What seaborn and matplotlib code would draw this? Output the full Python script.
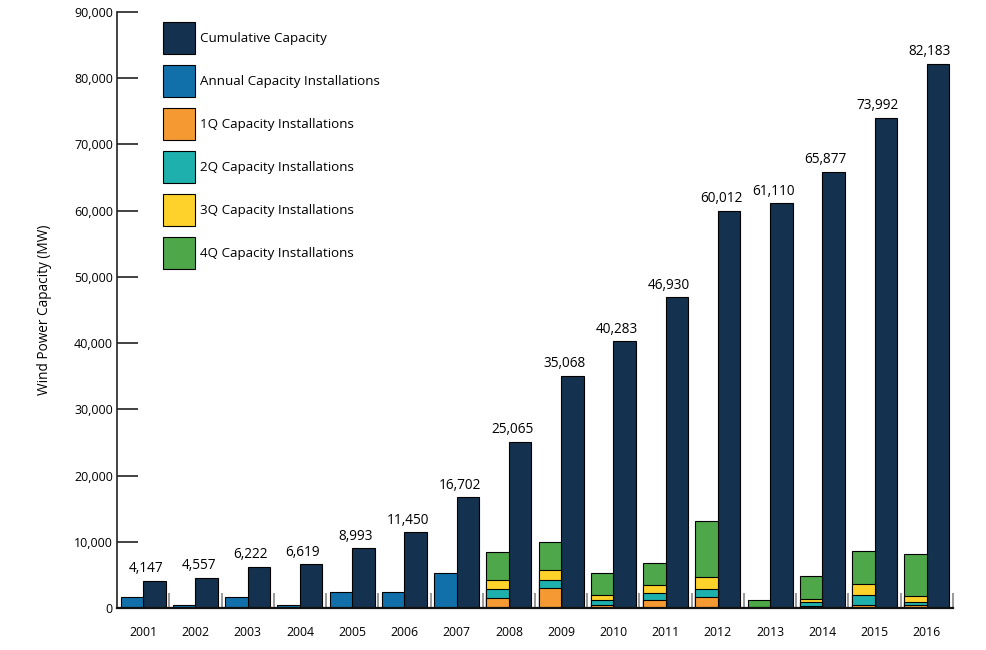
import numpy as np
import pandas as pd
import matplotlib
matplotlib.use("Agg")
import matplotlib.pyplot as plt
from matplotlib.patches import Patch
from matplotlib.ticker import FixedLocator, FuncFormatter
import seaborn as sns

# values (MW)
years = [str(y) for y in range(2001, 2017)]
cumulative = [4147, 4557, 6222, 6619, 8993, 11450, 16702, 25065,
              35068, 40283, 46930, 60012, 61110, 65877, 73992, 82183]
annual = [1697, 410, 1687, 389, 2396, 2454, 5253] + [np.nan] * 9
q1 = [np.nan] * 7 + [1550, 3000, 500, 1150, 1650, 30, 250, 400, 500]
q2 = [np.nan] * 7 + [1300, 1250, 750, 1100, 1200, 20, 650, 1600, 400]
q3 = [np.nan] * 7 + [1400, 1500, 750, 1150, 1900, 50, 400, 1600, 850]
q4 = [np.nan] * 7 + [4175, 4250, 3250, 3400, 8350, 1100, 3600, 5000, 6450]

labels = ["Cumulative Capacity", "Annual Capacity Installations",
          "1Q Capacity Installations", "2Q Capacity Installations",
          "3Q Capacity Installations", "4Q Capacity Installations"]
colors = ["#14324f", "#1170aa", "#f59a33", "#1db0ac", "#fed22b", "#4ea84a"]

sns.set_style("white")
plt.rcParams['font.family'] = ['Open Sans', 'DejaVu Sans']
plt.rcParams['text.color'] = 'black'
plt.rcParams['axes.labelcolor'] = 'black'
plt.rcParams['xtick.color'] = 'black'
plt.rcParams['ytick.color'] = 'black'

fig = plt.figure(figsize=(9.86, 6.5), dpi=100)
ax = fig.add_axes([0.1187, 0.0646, 0.8478, 0.9169])

def draw(vals, side, color):
    df = pd.DataFrame({"year": years, "val": vals, "side": side}).dropna()
    sns.barplot(data=df, x="year", y="val", hue="side", order=years,
                hue_order=["left", "right"], palette={"left": color, "right": color},
                dodge=True, width=0.86, errorbar=None, legend=False, saturation=1,
                edgecolor="black", linewidth=0.8, ax=ax)

# cumulative on the right of each year
draw(cumulative, "right", colors[0])
# annual on the left (2001-2007)
draw(annual, "left", colors[1])
# quarterly stacks drawn as overlapping running totals
qs = np.array([q1, q2, q3, q4], dtype=float)
running = np.cumsum(qs, axis=0)
for k in [3, 2, 1, 0]:
    draw(list(running[k]), "left", colors[2 + k])

for i, v in enumerate(cumulative):
    ax.text(i + 0.06, v + 700, f"{v:,}", ha="center", va="bottom", fontsize=9.8)

ax.set_xlim(-0.5, len(years) - 0.5)
ax.set_ylim(0, 90000)
ax.yaxis.set_major_locator(FixedLocator(range(0, 90001, 10000)))
ax.yaxis.set_major_formatter(FuncFormatter(lambda v, p: f"{int(v):,}"))
ax.tick_params(axis="y", direction="in", length=15, width=1.2, pad=3,
               labelsize=9, color="#222222", left=True)
ax.tick_params(axis="x", which="major", length=0, pad=13, labelsize=8.8)
ax.xaxis.set_minor_locator(FixedLocator(np.arange(0.5, len(years), 1.0)))
ax.tick_params(axis="x", which="minor", direction="in", length=11, width=1.2,
               color="#888888", bottom=True)

for s in ["top", "right"]:
    ax.spines[s].set_visible(False)
ax.spines["left"].set_linewidth(1.2)
ax.spines["left"].set_color("#222222")
ax.spines["bottom"].set_linewidth(1.6)
ax.spines["bottom"].set_color("#111111")

ax.set_xlabel("")
ax.set_ylabel("Wind Power Capacity (MW)", fontsize=9.8)
ax.yaxis.set_label_coords(-0.078, 0.5)

handles = [Patch(facecolor=c, edgecolor="black", linewidth=0.8) for c in colors]
fig.legend(handles=handles, labels=labels, loc="upper left",
           bbox_to_anchor=(163 / 986, 1 - 22 / 650), frameon=False,
           fontsize=9.6, handlelength=2.4, handleheight=3.3, labelspacing=0.84,
           handletextpad=0.4, borderpad=0, borderaxespad=0)

fig.savefig("out.png", dpi=100)
